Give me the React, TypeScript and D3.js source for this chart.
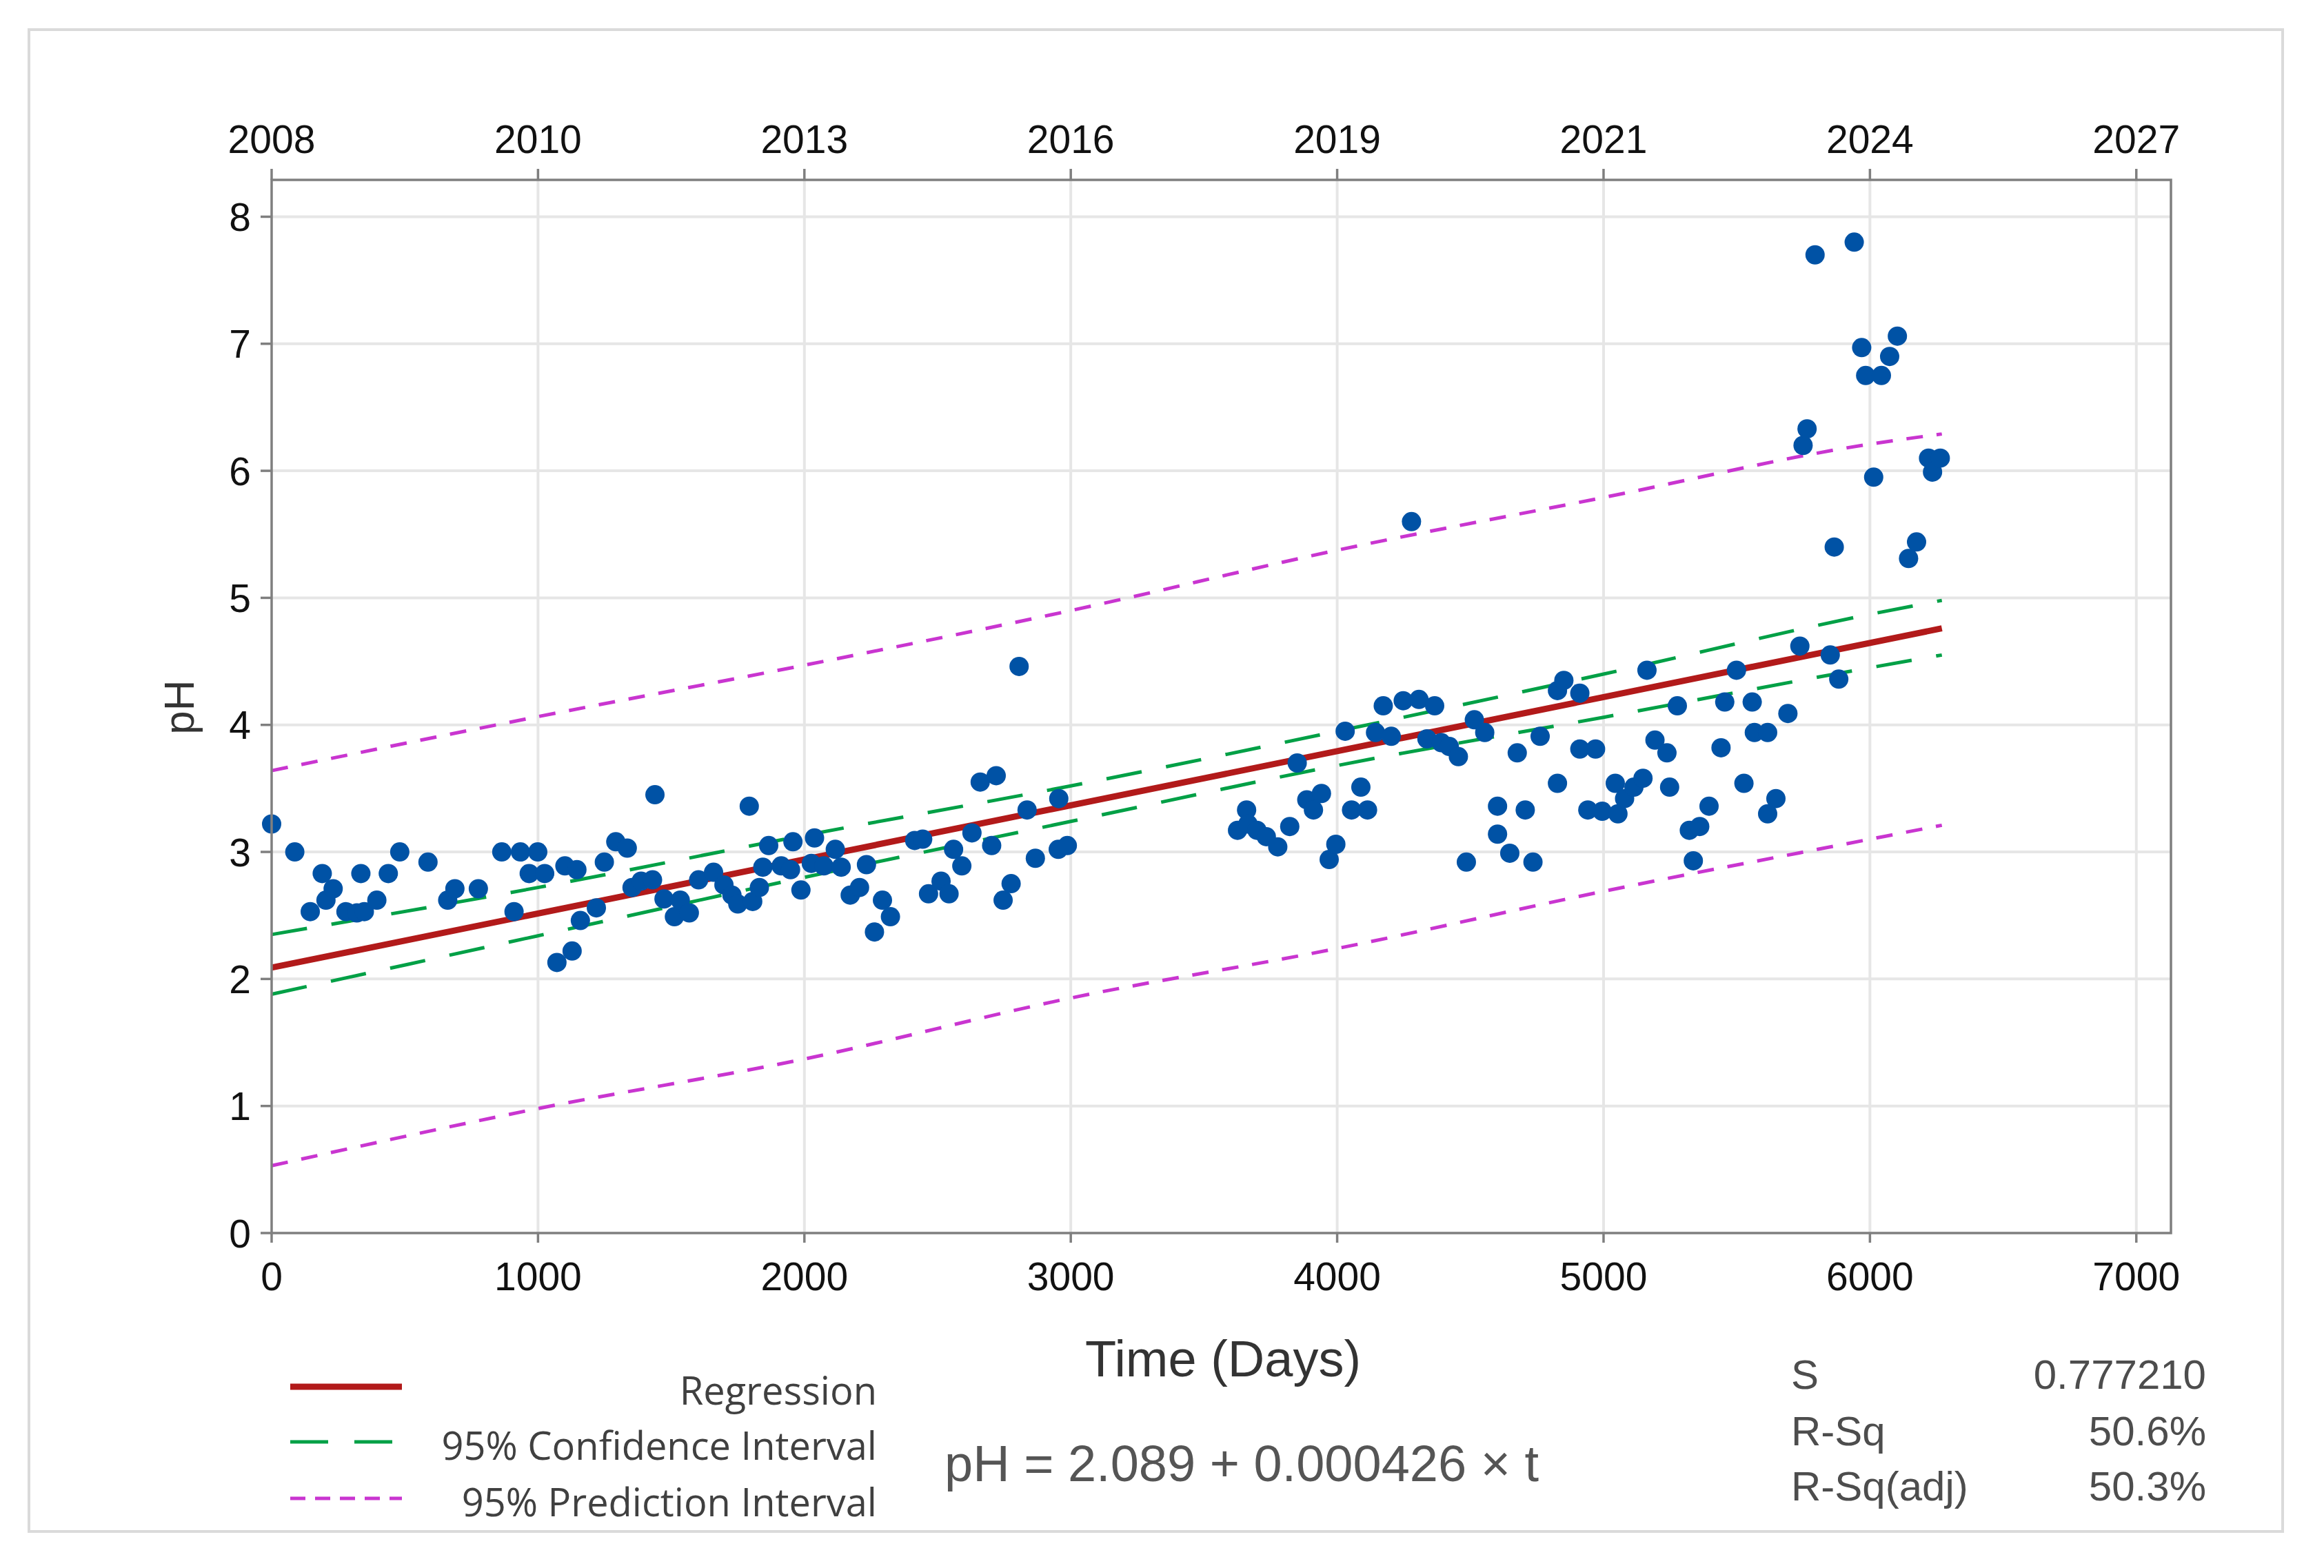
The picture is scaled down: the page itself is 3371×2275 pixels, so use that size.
import React from 'react';
import * as d3 from 'd3';

// sampled points: time in days and measured pH
const sampleDays = [
  0, 87, 145, 190, 204, 231, 279, 320, 335, 348, 395, 438, 481, 587, 661, 688, 776, 864, 910, 934,
  967, 999, 1025, 1071, 1101, 1128, 1146, 1159, 1219, 1249, 1292,
  1335, 1353, 1387, 1430, 1439, 1473, 1512, 1534, 1568, 1603, 1659, 1698, 1728, 1750, 1793, 1806,
  1831, 1844, 1866, 1913, 1948, 1957, 1987, 2026, 2038, 2073, 2116, 2138, 2172, 2207, 2233, 2263,
  2293, 2323, 2414, 2444, 2466, 2513, 2543, 2560, 2591,
  2629, 2660, 2703, 2720, 2746, 2776, 2806, 2836, 2867, 2953, 2955, 2987, 3626, 3660, 3665, 3699,
  3734, 3777, 3822, 3850,
  3886, 3911, 3941, 3970, 3995, 4030, 4054, 4089, 4114, 4144, 4173, 4203, 4248, 4279, 4307, 4337,
  4366, 4391, 4421, 4455, 4485, 4515, 4554, 4602, 4602, 4648, 4676, 4706, 4735, 4762, 4827, 4827,
  4851, 4911, 4911, 4941, 4970, 4995, 5044, 5054, 5079, 5114, 5148, 5163, 5193, 5238, 5248, 5277,
  5322, 5337, 5361,
  5396, 5441, 5455, 5499, 5527, 5558, 5566, 5616, 5616, 5647, 5692, 5737, 5851, 5883,
  5749, 5764, 5794, 5866, 5941, 5969, 5984, 6014, 6043, 6074, 6103, 6145, 6175, 6220, 6235, 6264,
];
const samplePH = [
  3.22, 3.0, 2.53, 2.83, 2.62, 2.71, 2.53, 2.52, 2.83, 2.53, 2.62, 2.83, 3.0, 2.92, 2.62, 2.71, 2.71, 3.0, 2.53, 3.0,
  2.83, 3.0, 2.83, 2.13, 2.89, 2.22, 2.86, 2.46, 2.56, 2.92, 3.08,
  3.03, 2.72, 2.77, 2.78, 3.45, 2.63, 2.49, 2.62, 2.52, 2.78, 2.84, 2.74, 2.66, 2.59, 3.36, 2.61,
  2.72, 2.88, 3.05, 2.89, 2.86, 3.08, 2.7, 2.91, 3.11, 2.89, 3.02, 2.88, 2.66, 2.72, 2.9, 2.37,
  2.62, 2.49, 3.09, 3.1, 2.67, 2.77, 2.67, 3.02, 2.89,
  3.15, 3.55, 3.05, 3.6, 2.62, 2.75, 4.46, 3.33, 2.95, 3.02, 3.42, 3.05, 3.17, 3.33, 3.22, 3.17,
  3.12, 3.04, 3.2, 3.7,
  3.41, 3.33, 3.46, 2.94, 3.06, 3.95, 3.33, 3.51, 3.33, 3.94, 4.15, 3.91, 4.19, 5.6, 4.2, 3.89,
  4.15, 3.86, 3.83, 3.75, 2.92, 4.04, 3.94, 3.36, 3.14, 2.99, 3.78, 3.33, 2.92, 3.91, 4.27, 3.54,
  4.35, 4.25, 3.81, 3.33, 3.81, 3.32, 3.54, 3.3, 3.42, 3.51, 3.58, 4.43, 3.88, 3.78, 3.51, 4.15,
  3.17, 2.93, 3.2,
  3.36, 3.82, 4.18, 4.43, 3.54, 4.18, 3.94, 3.94, 3.3, 3.42, 4.09, 4.62, 4.55, 4.36,
  6.2, 6.33, 7.7, 5.4, 7.8, 6.97, 6.75, 5.95, 6.75, 6.9, 7.06, 5.31, 5.44, 6.1, 5.99, 6.1,
];

// fitted line and interval bands
const regDays = [0, 6270];
const regPH = [2.089, 4.76];
const bandDays = [0, 1000, 2000, 3000, 4000, 5000, 6000, 6270];
const ciUpper = [2.35, 2.72, 3.13, 3.52, 3.95, 4.4, 4.87, 4.98];
const ciLower = [1.88, 2.34, 2.8, 3.24, 3.68, 4.06, 4.45, 4.55];
const piUpper = [3.64, 4.065, 4.47, 4.9, 5.375, 5.79, 6.21, 6.29];
const piLower = [0.53, 0.98, 1.37, 1.85, 2.24, 2.69, 3.1, 3.21];

const xTicks = [0, 1000, 2000, 3000, 4000, 5000, 6000, 7000];
const yearLabels = ['2008', '2010', '2013', '2016', '2019', '2021', '2024', '2027'];
const yTicks = [0, 1, 2, 3, 4, 5, 6, 7, 8];

const legendLabels = ['Regression', '95% Confidence Interval', '95% Prediction Interval'];
const statLabels = ['S', 'R-Sq', 'R-Sq(adj)'];
const statValues = ['0.777210', '50.6%', '50.3%'];

const W = 3371;
const H = 2275;
const plot = { left: 394, right: 3149, top: 261, bottom: 1789 };

const axisFont = '"Liberation Sans", Arial, sans-serif';
const legendFont = '"Open Sans", "Noto Sans", sans-serif';

const BLUE = '#0052a5';
const RED = '#b21a1a';
const GREEN = '#00a046';
const MAGENTA = '#c935d0';

export default function App() {
  const x = d3.scaleLinear().domain([0, 7130]).range([plot.left, plot.right]);
  const y = d3.scaleLinear().domain([0, 8.29]).range([plot.bottom, plot.top]);

  const band = d3.line<number>()
    .x((_, i) => x(bandDays[i]))
    .curve(d3.curveMonotoneX);
  const bandPath = (vals: number[]) => band.y((v) => y(v))(vals) || '';

  const regPath = d3.line<number>()
    .x((_, i) => x(regDays[i]))
    .y((v) => y(v))(regPH) || '';

  const legendRows = [
    { dash: undefined, color: RED, width: 9 },
    { dash: '55 38', color: GREEN, width: 5 },
    { dash: '22 14', color: MAGENTA, width: 5 },
  ];
  const legendY = [2012, 2092, 2174];
  const statY = [1993, 2075, 2155];

  return (
    <svg width={W} height={H} viewBox={`0 0 ${W} ${H}`}
      style={{ position: 'absolute', left: 0, top: 0, display: 'block', background: '#fff' }}>
      <rect x={0} y={0} width={W} height={H} fill="#fff" />
      <rect x={42} y={43} width={3269} height={2179} fill="none" stroke="#dadada" strokeWidth={4} />

      {/* grid */}
      <g stroke="#e6e6e6" strokeWidth={4}>
        {xTicks.filter((t) => t > 0).map((t) => (
          <line key={`gx${t}`} x1={x(t)} x2={x(t)} y1={plot.top} y2={plot.bottom} />
        ))}
        {yTicks.filter((t) => t > 0).map((t) => (
          <line key={`gy${t}`} x1={plot.left} x2={plot.right} y1={y(t)} y2={y(t)} />
        ))}
      </g>

      {/* bands and fit */}
      <g fill="none">
        <path d={bandPath(piUpper)} stroke={MAGENTA} strokeWidth={5} strokeDasharray="24 20" />
        <path d={bandPath(piLower)} stroke={MAGENTA} strokeWidth={5} strokeDasharray="24 20" />
        <path d={bandPath(ciUpper)} stroke={GREEN} strokeWidth={5} strokeDasharray="52 36" />
        <path d={bandPath(ciLower)} stroke={GREEN} strokeWidth={5} strokeDasharray="52 36" />
        <path d={regPath} stroke={RED} strokeWidth={9} />
      </g>

      {/* points */}
      <g fill={BLUE}>
        {sampleDays.map((d, i) => (
          <circle key={i} cx={x(d)} cy={y(samplePH[i])} r={14} />
        ))}
      </g>

      {/* frame */}
      <rect x={plot.left} y={plot.top} width={plot.right - plot.left} height={plot.bottom - plot.top}
        fill="none" stroke="#7f7f7f" strokeWidth={3.5} />

      {/* bottom axis */}
      <g fontFamily={axisFont} fontSize={57} fill="#111" textAnchor="middle">
        {xTicks.map((t) => (
          <g key={`bx${t}`}>
            <line x1={x(t)} x2={x(t)} y1={plot.bottom} y2={plot.bottom + 14} stroke="#7f7f7f" strokeWidth={3.5} />
            <text x={x(t)} y={1872}>{t}</text>
          </g>
        ))}
      </g>

      {/* top axis (years) */}
      <g fontFamily={axisFont} fontSize={57} fill="#111" textAnchor="middle">
        {xTicks.map((t, i) => (
          <g key={`tx${t}`}>
            <line x1={x(t)} x2={x(t)} y1={plot.top} y2={plot.top - 16} stroke="#7f7f7f" strokeWidth={3.5} />
            <text x={x(t)} y={222}>{yearLabels[i]}</text>
          </g>
        ))}
      </g>

      {/* left axis */}
      <g fontFamily={axisFont} fontSize={57} fill="#111" textAnchor="end">
        {yTicks.map((t) => (
          <g key={`ly${t}`}>
            <line x1={plot.left} x2={plot.left - 16} y1={y(t)} y2={y(t)} stroke="#7f7f7f" strokeWidth={3.5} />
            <text x={364} y={y(t)} dy="0.36em">{t}</text>
          </g>
        ))}
      </g>

      <text transform="translate(259,1026) rotate(-90)" textAnchor="middle" dy="0.36em"
        fontFamily={axisFont} fontSize={62} fill="#333">pH</text>
      <text x={1774} y={1970} textAnchor="middle" dy="0.36em"
        fontFamily={axisFont} fontSize={74} fill="#333">Time (Days)</text>
      <text x={1801} y={2122} textAnchor="middle" dy="0.36em"
        fontFamily={axisFont} fontSize={74} fill="#555">pH = 2.089 + 0.000426 × t</text>

      {/* legend */}
      <g fontFamily={legendFont} fontSize={56} fill="#404040">
        {legendLabels.map((label, i) => (
          <g key={label}>
            <line x1={421} x2={583} y1={legendY[i]} y2={legendY[i]}
              stroke={legendRows[i].color} strokeWidth={legendRows[i].width}
              strokeDasharray={legendRows[i].dash} />
            <text x={1272} y={legendY[i] + 6} textAnchor="end" dy="0.36em">{label}</text>
          </g>
        ))}
      </g>

      {/* stats */}
      <g fontFamily={axisFont} fontSize={60} fill="#4d4d4d">
        {statLabels.map((label, i) => (
          <g key={label}>
            <text x={2598} y={statY[i]} dy="0.36em">{label}</text>
            <text x={3200} y={statY[i]} dy="0.36em" textAnchor="end">{statValues[i]}</text>
          </g>
        ))}
      </g>
    </svg>
  );
}
